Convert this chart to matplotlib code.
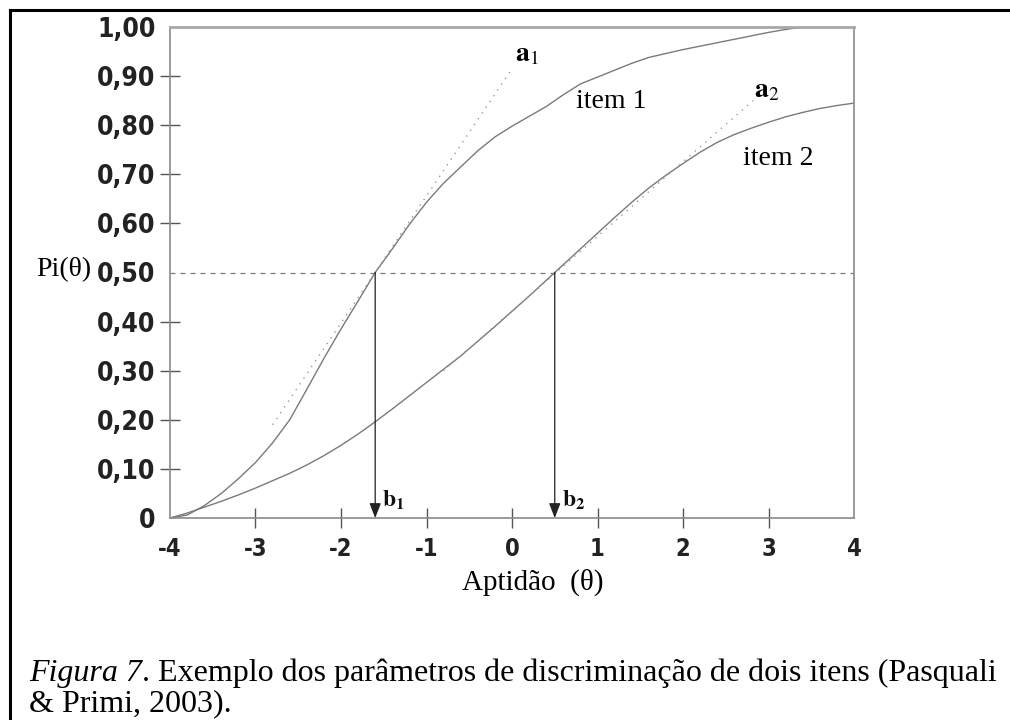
import matplotlib
matplotlib.use("Agg")
import matplotlib.pyplot as plt
from matplotlib.lines import Line2D
from matplotlib import font_manager as fm

# ---- data ----
item1_theta = [-4.0, -3.8, -3.6, -3.4, -3.2, -3.0, -2.8, -2.6, -2.4, -2.2, -2.0,
               -1.8, -1.6, -1.4, -1.2, -1.0, -0.8, -0.6, -0.4, -0.2, 0.0, 0.2,
               0.4, 0.6, 0.8, 1.0, 1.2, 1.4, 1.6, 1.8, 2.0, 2.2, 2.4, 2.6, 2.8,
               3.0, 3.2, 3.4, 4.0]
item1_p = [0.0, 0.006, 0.025, 0.05, 0.08, 0.113, 0.153, 0.2, 0.262, 0.325, 0.385,
           0.442, 0.50, 0.548, 0.598, 0.643, 0.682, 0.715, 0.748, 0.776, 0.798,
           0.818, 0.838, 0.862, 0.884, 0.898, 0.912, 0.926, 0.938, 0.946, 0.954,
           0.961, 0.968, 0.975, 0.982, 0.989, 0.995, 1.0, 1.0]

item2_theta = [-4.0, -3.8, -3.6, -3.4, -3.2, -3.0, -2.8, -2.6, -2.4, -2.2, -2.0,
               -1.8, -1.6, -1.4, -1.2, -1.0, -0.8, -0.6, -0.4, -0.2, 0.0, 0.2,
               0.4, 0.6, 0.8, 1.0, 1.2, 1.4, 1.6, 1.8, 2.0, 2.2, 2.4, 2.6, 2.8,
               3.0, 3.2, 3.4, 3.6, 3.8, 4.0]
item2_p = [0.0, 0.01, 0.022, 0.034, 0.047, 0.061, 0.076, 0.091, 0.108, 0.127, 0.148,
           0.171, 0.196, 0.222, 0.249, 0.276, 0.303, 0.33, 0.36, 0.39, 0.421,
           0.452, 0.484, 0.516, 0.548, 0.58, 0.612, 0.643, 0.672, 0.698, 0.722,
           0.745, 0.765, 0.781, 0.794, 0.806, 0.817, 0.826, 0.834, 0.84, 0.845]

tangent1_theta = [-2.8, 0.0]
tangent1_p = [0.19, 0.915]
tangent2_theta = [-0.8, 2.82]
tangent2_p = [0.30, 0.85]

b_values = [-1.6, 0.5]
b_labels = ["1", "2"]
half_p = 0.5

x_ticks = [-4, -3, -2, -1, 0, 1, 2, 3, 4]
x_ticklabels = ["-4", "-3", "-2", "-1", "0", "1", "2", "3", "4"]
y_ticks = [0, 0.1, 0.2, 0.3, 0.4, 0.5, 0.6, 0.7, 0.8, 0.9, 1.0]
y_ticklabels = ["0", "0,10", "0,20", "0,30", "0,40", "0,50", "0,60", "0,70",
                "0,80", "0,90", "1,00"]

caption_italic = "Figura 7"
caption_line1 = ". Exemplo dos parâmetros de discriminação de dois itens (Pasquali"
caption_line2 = "& Primi, 2003)."


# ---- find a condensed bold sans for the tick labels ----
def find_condensed():
    best = None
    for f in fm.fontManager.ttflist:
        name = f.name.lower()
        narrow = ("narrow" in name or "condensed" in name
                  or str(f.stretch) in ("condensed", "semi-condensed", "extra-condensed"))
        if not narrow:
            continue
        if f.style != "normal":
            continue
        w = f.weight if isinstance(f.weight, int) else 700
        score = abs(w - 700)
        if "dejavu" in name or "liberation" in name or "roboto" in name:
            score -= 50
        if best is None or score < best[0]:
            best = (score, f.fname)
    return best[1] if best else None


cond = find_condensed()
if cond:
    tick_prop = fm.FontProperties(fname=cond, size=19)
    xtick_prop = fm.FontProperties(fname=cond, size=17)
else:
    tick_prop = fm.FontProperties(family="Roboto", weight="bold", size=17)
    xtick_prop = fm.FontProperties(family="Roboto", weight="bold", size=15)

# ---- figure ----
plt.rcParams["mathtext.fontset"] = "stix"
W, H = 1010, 720
fig = plt.figure(figsize=(W / 100, H / 100), dpi=100)
ax = fig.add_axes([170 / W, 1 - 518 / H, (854 - 170) / W, (518 - 27) / H])

gray = "#8a8a8a"
ax.plot(item1_theta, item1_p, color="#7a7a7a", lw=1.0)
ax.plot(item2_theta, item2_p, color="#7a7a7a", lw=1.0)
ax.plot(tangent1_theta, tangent1_p, color="#9a9a9a", lw=1.0, ls=(0, (1, 4)))
ax.plot(tangent2_theta, tangent2_p, color="#9a9a9a", lw=1.0, ls=(0, (1, 4)))
ax.axhline(half_p, color="#7a7a7a", lw=0.9, ls=(0, (4, 4)))

for b, lab in zip(b_values, b_labels):
    ax.annotate("", xy=(b, 0.0), xytext=(b, half_p),
                arrowprops=dict(arrowstyle="-|>,head_length=0.9,head_width=0.35",
                                color="#222222", lw=0.9, shrinkA=0, shrinkB=0))
    ax.text(b + 0.08, 0.036, r"$\mathbf{b}_{\mathbf{%s}}$" % lab, fontsize=17,
            ha="left", va="center", color="#111111")

ax.text(0.175, 0.947, r"$\mathbf{a}_{1}$", fontsize=20, ha="center", va="center")
ax.text(2.98, 0.872, r"$\mathbf{a}_{2}$", fontsize=20, ha="center", va="center")
ax.text(1.16, 0.849, "item 1", fontsize=20, family="Liberation Serif",
        ha="center", va="center")
ax.text(3.11, 0.733, "item 2", fontsize=20, family="Liberation Serif",
        ha="center", va="center")

ax.set_xlim(-4, 4)
ax.set_ylim(0, 1)
ax.set_xticks(x_ticks)
ax.set_xticklabels(x_ticklabels)
ax.set_yticks(y_ticks)
ax.set_yticklabels(y_ticklabels)

for lab in ax.get_yticklabels():
    lab.set_fontproperties(tick_prop)
    lab.set_color("#222222")
for lab in ax.get_xticklabels():
    lab.set_fontproperties(xtick_prop)
    lab.set_color("#222222")

ax.tick_params(axis="both", direction="inout", length=15, width=1.0,
               color="#555555")
ax.tick_params(axis="y", pad=3)
ax.tick_params(axis="x", pad=6)
yt = ax.yaxis.get_major_ticks()
for i in (0, 5, 10):
    yt[i].tick1line.set_visible(False)
xt = ax.xaxis.get_major_ticks()
for i in (0, 8):
    xt[i].tick1line.set_visible(False)

for s in ("left", "bottom", "right"):
    ax.spines[s].set_color(gray)
    ax.spines[s].set_linewidth(1.2)
ax.spines["top"].set_color("#a8a8a8")
ax.spines["top"].set_linewidth(2.0)

# axis labels
fig.text(64 / W, 1 - 270 / H, "Pi(θ)", fontsize=20, family="Liberation Serif",
         ha="center", va="center")
fig.text(533 / W, 1 - 582 / H, "Aptidão  (θ)", fontsize=21,
         family="Liberation Serif", ha="center", va="center")

# caption
cap_font = "Liberation Serif"
cap_size = 23
t1 = fig.text(29 / W, 1 - 681 / H, caption_italic, fontsize=cap_size, family=cap_font,
              style="italic", ha="left", va="baseline")
fig.canvas.draw()
bb = t1.get_window_extent()
fig.text(bb.x1 / W, 1 - 681 / H, caption_line1, fontsize=cap_size, family=cap_font,
         ha="left", va="baseline")
fig.text(29 / W, 1 - 711 / H, caption_line2, fontsize=cap_size, family=cap_font,
         ha="left", va="baseline")

# outer frame
fig.add_artist(Line2D([10 / W, 1.0], [1 - 9.5 / H, 1 - 9.5 / H],
                      transform=fig.transFigure, color="black", lw=2.2))
fig.add_artist(Line2D([10 / W, 10 / W], [1 - 9.5 / H, 0.0],
                      transform=fig.transFigure, color="black", lw=2.2))

fig.savefig("out.png", dpi=100)
